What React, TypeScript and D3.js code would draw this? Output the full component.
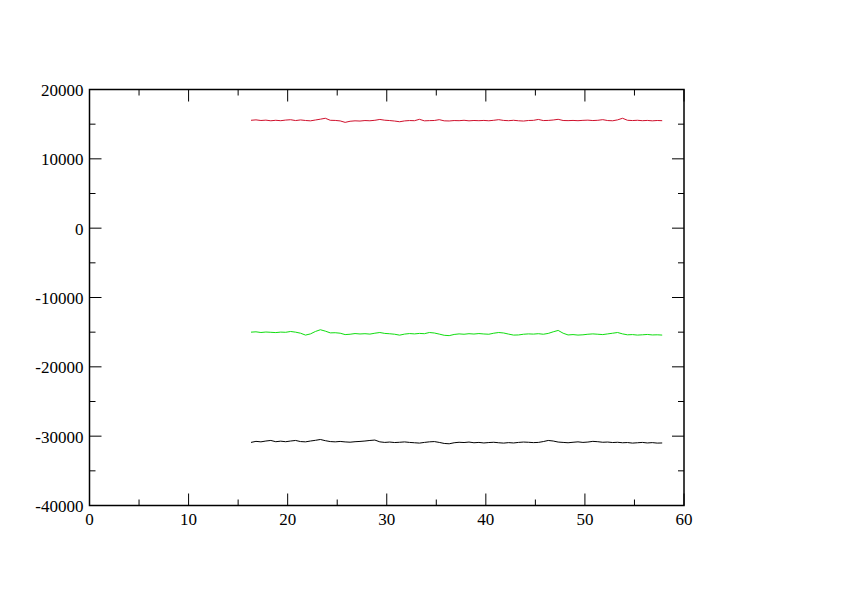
import * as d3 from 'd3'

const W = 842
const H = 595
const PLOT = { left: 89.5, right: 684, top: 89.5, bottom: 505.5 }
const FONT = 'Liberation Serif'
const FONT_SIZE = 17
const MAJOR = 12
const MINOR = 6

const X_TICKS = [0, 10, 20, 30, 40, 50, 60]
const X_MINOR = [5, 15, 25, 35, 45, 55]
const Y_TICKS = [-40000, -30000, -20000, -10000, 0, 10000, 20000]
const Y_MINOR = [-35000, -25000, -15000, -5000, 5000, 15000]

const TIME = [
  16.3, 16.8, 17.3, 17.8, 18.3, 18.8, 19.3, 19.8, 20.3, 20.8, 21.3, 21.8, 22.3, 22.8, 23.3, 23.8,
  24.3, 24.8, 25.3, 25.8, 26.3, 26.8, 27.3, 27.8, 28.3, 28.8, 29.3, 29.8, 30.3, 30.8, 31.3, 31.8,
  32.3, 32.8, 33.3, 33.8, 34.3, 34.8, 35.3, 35.8, 36.3, 36.8, 37.3, 37.8, 38.3, 38.8, 39.3, 39.8,
  40.3, 40.8, 41.3, 41.8, 42.3, 42.8, 43.3, 43.8, 44.3, 44.8, 45.3, 45.8, 46.3, 46.8, 47.3, 47.8,
  48.3, 48.8, 49.3, 49.8, 50.3, 50.8, 51.3, 51.8, 52.3, 52.8, 53.3, 53.8, 54.3, 54.8, 55.3, 55.8,
  56.3, 56.8, 57.3, 57.8,
]

const RED = [
  15560, 15620, 15530, 15580, 15490, 15560, 15500, 15590, 15640, 15520, 15610, 15530, 15480, 15600, 15720, 15850,
  15560, 15540, 15470, 15260, 15420, 15480, 15450, 15520, 15490, 15560, 15680, 15570, 15520, 15450, 15350, 15470,
  15520, 15500, 15700, 15480, 15510, 15530, 15650, 15480, 15460, 15520, 15500, 15560, 15480, 15530, 15500, 15540,
  15490, 15560, 15650, 15540, 15500, 15560, 15490, 15450, 15530, 15550, 15680, 15520, 15540, 15600, 15700, 15530,
  15510, 15540, 15500, 15550, 15580, 15520, 15560, 15650, 15520, 15490, 15620, 15850, 15560, 15520, 15560, 15500,
  15540, 15480, 15530, 15500,
]

const GREEN = [
  -15000, -14950, -15050, -14980, -15020, -15060, -14990, -15020, -14900, -15000, -15150, -15420, -15250, -14900, -14650, -14850,
  -15100, -15080, -15150, -15350, -15300, -15200, -15260, -15220, -15280, -15150, -15050, -15180, -15230, -15300, -15430, -15280,
  -15200, -15250, -15180, -15220, -15050, -15120, -15280, -15450, -15500, -15330, -15250, -15300, -15220, -15270, -15200, -15260,
  -15300, -15150, -15050, -15120, -15280, -15420, -15400, -15300, -15250, -15280, -15220, -15300, -15180, -14950, -14750, -15150,
  -15400, -15350, -15420, -15380, -15300, -15250, -15300, -15350, -15250, -15150, -15050, -15250, -15380, -15350, -15420, -15380,
  -15330, -15400, -15380, -15420,
]

const BLACK = [
  -30900, -30750, -30820, -30700, -30620, -30800, -30720, -30800, -30700, -30620, -30780, -30820, -30700, -30600, -30480, -30650,
  -30780, -30820, -30760, -30830, -30870, -30800, -30760, -30700, -30620, -30560, -30820, -30900, -30850, -30920, -30880, -30830,
  -30900, -30950, -31000, -30900, -30820, -30780, -30900, -31050, -31100, -30950, -30880, -30920, -30850, -30950, -30900, -30980,
  -30920, -30880, -30950, -31000, -30930, -30980, -30900, -30850, -30880, -30930, -30900, -30780, -30620, -30700, -30850, -30900,
  -30950, -30880, -30820, -30900, -30850, -30750, -30800, -30880, -30850, -30920, -30880, -30950, -30920, -31000, -30950, -30900,
  -30980, -30930, -31000, -30980,
]

const SERIES = [
  { name: 'red', values: RED, color: '#d0102c' },
  { name: 'green', values: GREEN, color: '#10dd10' },
  { name: 'black', values: BLACK, color: '#000000' },
]

export default function App() {
  const x = d3.scaleLinear().domain([0, 60]).range([PLOT.left, PLOT.right])
  const y = d3.scaleLinear().domain([-40000, 20000]).range([PLOT.bottom, PLOT.top])

  const line = d3
    .line<number>()
    .x((_, i) => x(TIME[i]))
    .y((d) => y(d))

  const textStyle = { fontFamily: FONT, fontSize: `${FONT_SIZE}px` }

  return (
    <svg width={W} height={H} style={{ position: 'absolute', left: 0, top: 0, background: '#fff' }}>
      {SERIES.map((s) => (
        <path key={s.name} d={line(s.values) ?? ''} fill="none" stroke={s.color} strokeWidth={1} />
      ))}

      <rect
        x={PLOT.left}
        y={PLOT.top}
        width={PLOT.right - PLOT.left}
        height={PLOT.bottom - PLOT.top}
        fill="none"
        stroke="#000"
        strokeWidth={1.5}
      />

      {/* x ticks: bottom and top, pointing inward */}
      {X_TICKS.map((t) => (
        <g key={`xt${t}`} stroke="#000" strokeWidth={1}>
          <line x1={x(t)} x2={x(t)} y1={PLOT.bottom} y2={PLOT.bottom - MAJOR} />
          <line x1={x(t)} x2={x(t)} y1={PLOT.top} y2={PLOT.top + MAJOR} />
        </g>
      ))}
      {X_MINOR.map((t) => (
        <g key={`xm${t}`} stroke="#000" strokeWidth={1}>
          <line x1={x(t)} x2={x(t)} y1={PLOT.bottom} y2={PLOT.bottom - MINOR} />
          <line x1={x(t)} x2={x(t)} y1={PLOT.top} y2={PLOT.top + MINOR} />
        </g>
      ))}
      {X_TICKS.map((t) => (
        <text key={`xl${t}`} x={x(t)} y={PLOT.bottom + 19.5} textAnchor="middle" style={textStyle}>
          {t}
        </text>
      ))}

      {/* y ticks: left and right */}
      {Y_TICKS.map((t) => (
        <g key={`yt${t}`} stroke="#000" strokeWidth={1}>
          <line x1={PLOT.left} x2={PLOT.left + MAJOR} y1={y(t)} y2={y(t)} />
          <line x1={PLOT.right} x2={PLOT.right - MAJOR} y1={y(t)} y2={y(t)} />
        </g>
      ))}
      {Y_MINOR.map((t) => (
        <g key={`ym${t}`} stroke="#000" strokeWidth={1}>
          <line x1={PLOT.left} x2={PLOT.left + MINOR} y1={y(t)} y2={y(t)} />
          <line x1={PLOT.right} x2={PLOT.right - MINOR} y1={y(t)} y2={y(t)} />
        </g>
      ))}
      {Y_TICKS.map((t) => (
        <text key={`yl${t}`} x={PLOT.left - 6} y={y(t)} dy="0.39em" textAnchor="end" style={textStyle}>
          {t}
        </text>
      ))}
    </svg>
  )
}
